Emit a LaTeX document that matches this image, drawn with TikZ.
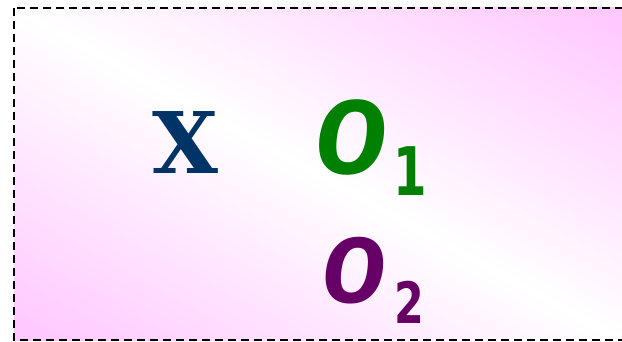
\documentclass[tikz,border=0pt]{standalone}
\usepackage{fontspec}
\usepackage{graphicx}
\setmainfont{DejaVu Serif}
\newfontfamily\comicfont{Fira Sans}
\newfontfamily\digitfont{DejaVu Sans}
\definecolor{pk}{RGB}{255,198,255}
\definecolor{navy}{RGB}{0,51,102}
\definecolor{grn}{RGB}{0,128,0}
\definecolor{purp}{RGB}{102,0,102}
\tikzset{
  letterx/.style={font=\fontsize{85}{85}\selectfont\bfseries, text=navy, inner sep=0pt},
  oletter/.style={font=\comicfont\bfseries\itshape, inner sep=0pt},
  frame/.style={dash pattern=on 8pt off 5pt, line width=1.4pt},
}
\begin{document}
\begin{tikzpicture}[x=1pt,y=-1pt]
\useasboundingbox (0,0) rectangle (622,342);
\begin{scope}
\clip (14,8) rectangle (630,340);
% linear gradient: white along the TL-BR diagonal, pink at the TR and BL corners
\def\cx{317.5}\def\cy{174}\def\nx{0.4798}\def\ny{-0.8773}\def\dx{0.8773}\def\dy{0.4798}
\foreach \k in {0,...,60}{
  \pgfmathsetmacro\t{4.855*\k}
  \pgfmathsetmacro\p{\k*5/3}
  \fill[pk!\p!white]
    ({\cx+\t*\nx-500*\dx},{\cy+\t*\ny-500*\dy}) --
    ({\cx+\t*\nx+500*\dx},{\cy+\t*\ny+500*\dy}) --
    ({\cx+500*\nx+500*\dx},{\cy+500*\ny+500*\dy}) --
    ({\cx+500*\nx-500*\dx},{\cy+500*\ny-500*\dy}) -- cycle;
  \fill[pk!\p!white]
    ({\cx-\t*\nx-500*\dx},{\cy-\t*\ny-500*\dy}) --
    ({\cx-\t*\nx+500*\dx},{\cy-\t*\ny+500*\dy}) --
    ({\cx-500*\nx+500*\dx},{\cy-500*\ny+500*\dy}) --
    ({\cx-500*\nx-500*\dx},{\cy-500*\ny-500*\dy}) -- cycle;
}
\end{scope}
\draw[frame] (14,8) rectangle (630,340);
\node[letterx, anchor=base] (x) at (185.5,174) {X};
\node[oletter, text=grn, anchor=base west] (o1) at (315,174) {\fontsize{104}{104}\selectfont O\hspace{7pt}\raisebox{-22pt}{\digitfont\bfseries\upshape\fontsize{67}{67}\selectfont\scalebox{0.72}[1]{1}}};
\node[oletter, text=purp, anchor=base west] (o2) at (322,302) {\fontsize{92}{92}\selectfont O\hspace{10pt}\raisebox{-21pt}{\digitfont\bfseries\upshape\fontsize{57}{57}\selectfont\scalebox{0.75}[1]{2}}};
\end{tikzpicture}
\end{document}
